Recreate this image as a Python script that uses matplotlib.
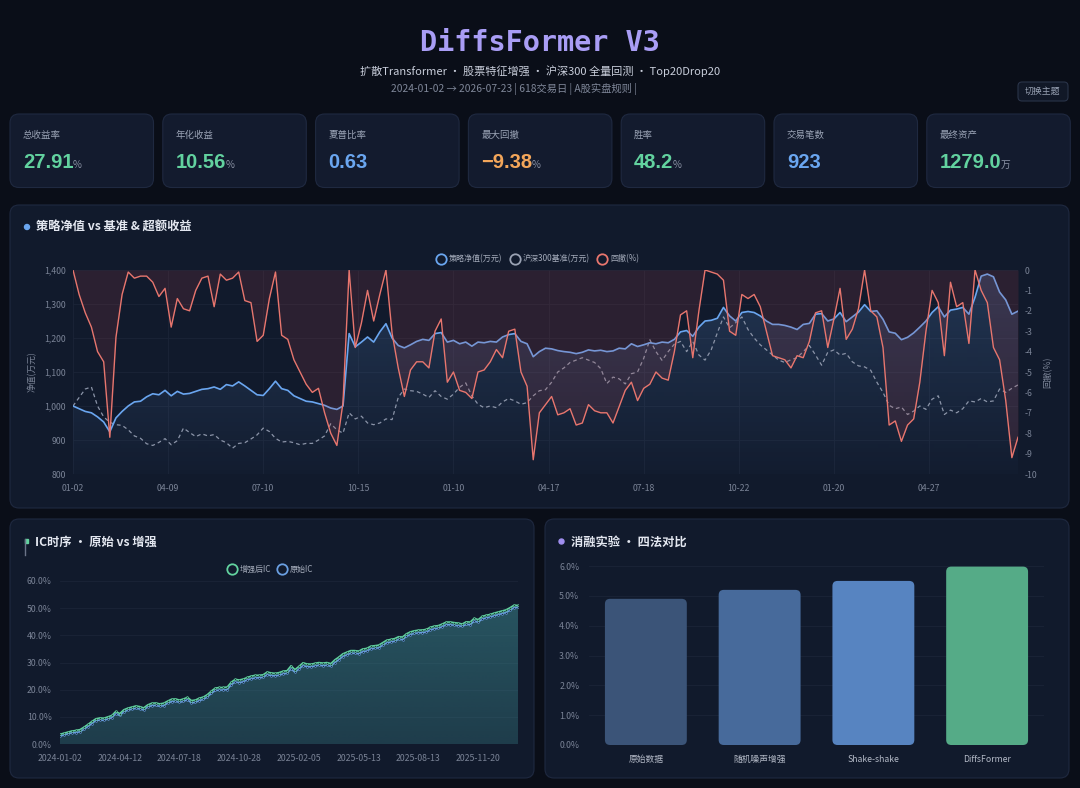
import numpy as np
import matplotlib.pyplot as plt
import matplotlib.colors as mcolors
from matplotlib.patches import FancyBboxPatch, Circle, Rectangle
from matplotlib.lines import Line2D
from matplotlib.ticker import FuncFormatter, MultipleLocator

plt.rcParams['font.family'] = ['Noto Sans CJK SC', 'DejaVu Sans']
plt.rcParams['axes.unicode_minus'] = False

# ---------------- data ----------------
kpi_labels = ['总收益率', '年化收益', '夏普比率', '最大回撤', '胜率', '交易笔数', '最终资产']
kpi_values = ['27.91', '10.56', '0.63', '\u22129.38', '48.2', '923', '1279.0']
kpi_units = ['%', '%', '', '%', '%', '', '万']

# 策略净值 / 沪深300 / 回撤, one point every 4 trading days
nav_strategy = [
    1000, 992, 984, 980, 968, 953, 924, 965, 984, 1000, 1012, 1014, 1027, 1036, 1033, 1046,
    1030, 1043, 1035, 1037, 1043, 1049, 1051, 1056, 1049, 1063, 1059, 1071, 1059, 1046, 1033,
    1031, 1051, 1073, 1051, 1046, 1030, 1022, 1014,
    1012, 1007, 1002, 994, 990, 1000, 1213, 1174, 1188, 1203, 1188, 1218, 1242, 1200, 1178,
    1171, 1180, 1190, 1196, 1193, 1213, 1216, 1188, 1193, 1183, 1188, 1176, 1188, 1186, 1190,
    1188, 1203, 1210, 1213, 1190, 1183, 1145, 1160,
    1170, 1168, 1163, 1160, 1158, 1154, 1158, 1165, 1162, 1164, 1160, 1162, 1170, 1168, 1183,
    1175, 1180, 1186, 1183, 1188, 1186, 1196, 1218, 1222, 1205, 1232, 1250, 1252, 1258, 1290,
    1265, 1250, 1275, 1278, 1275, 1265, 1250, 1240, 1240,
    1237, 1232, 1225, 1240, 1243, 1270, 1272, 1250, 1256, 1275, 1248, 1262, 1276, 1298, 1278,
    1280, 1255, 1218, 1214, 1195, 1202, 1215, 1232, 1250, 1275, 1292, 1262, 1282, 1285, 1290,
    1270, 1320, 1382, 1388, 1380, 1335, 1312, 1270, 1279,
]
nav_bench = [
    1000, 1025, 1050, 1056, 1000, 968, 952, 945, 943, 930, 912, 905, 889, 884, 893, 904, 886,
    898, 935, 922, 910, 918, 912, 916, 900, 892, 876, 890, 892, 903, 915, 935, 925, 905, 894,
    896, 892, 886, 890,
    890, 900, 912, 948, 930, 920, 980, 962, 970, 950, 945, 950, 962, 960, 1025, 1050, 1045,
    1043, 1035, 1025, 1045, 1028, 1020, 1035, 1055, 1068, 1030, 1005, 995, 1000, 995, 1012,
    1022, 1015, 1005, 1010, 1030, 1045,
    1048, 1070, 1100, 1112, 1128, 1135, 1142, 1135, 1128, 1110, 1066, 1085, 1080, 1065, 1095,
    1100, 1140, 1195, 1160, 1134, 1160, 1182, 1190, 1160, 1190, 1150, 1135, 1165, 1215, 1262,
    1230, 1245, 1262, 1225, 1200, 1180, 1165, 1150, 1135,
    1128, 1136, 1142, 1160, 1178, 1150, 1120, 1158, 1165, 1150, 1155, 1130, 1118, 1115, 1105,
    1070, 1040, 1002, 992, 997, 975, 985, 1000, 990, 1020, 1030, 975, 988, 980, 992, 1015,
    1012, 1022, 1012, 1015, 1050, 1040, 1052, 1062,
]
drawdown = [
    0.0, -1.2, -2.1, -2.8, -4.0, -4.5, -8.2, -3.3, -1.2, -0.1, -0.4, -0.3, -0.3, -0.6, -1.3,
    -0.9, -2.8, -1.4, -1.9, -2.0, -1.0, -0.4, -0.3, -1.8, -0.2, -0.5, -0.4, -0.1, -1.5, -1.6,
    -3.5, -3.2, -1.4, -0.1, -3.2, -3.4, -4.4, -5.0, -5.6,
    -6.0, -5.8, -7.0, -8.0, -8.6, -6.5, 0.0, -3.8, -2.6, -1.0, -2.5, -1.2, 0.0, -3.1, -4.8,
    -6.2, -4.9, -4.5, -4.5, -4.8, -3.0, -2.4, -5.5, -5.0, -5.9, -6.0, -6.3, -5.0, -4.9, -4.5,
    -3.9, -4.3, -3.0, -2.9, -5.0, -5.7, -9.3, -7.0,
    -6.6, -6.2, -7.1, -7.0, -6.8, -7.6, -7.5, -6.6, -6.9, -7.0, -7.0, -7.5, -6.7, -5.9, -5.5,
    -6.4, -5.8, -5.6, -5.0, -5.3, -5.4, -4.0, -2.2, -2.0, -4.3, -2.0, 0.0, -0.1, -0.2, -0.5,
    -3.0, -3.2, -1.2, -1.4, -1.2, -1.8, -3.0, -4.2, -4.3,
    -4.4, -4.8, -4.2, -4.3, -3.5, -2.1, -2.0, -3.8, -2.4, -0.9, -3.4, -2.9, -1.9, 0.0, -2.0,
    -2.3, -3.8, -7.6, -7.4, -8.4, -7.6, -7.3, -5.5, -3.0, -1.0, -1.6, -4.2, -0.6, -1.8, -1.6,
    -3.6, 0.0, -1.0, -1.6, -3.8, -4.4, -6.4, -9.2, -8.2,
]
nav_dates = ['01-02', '04-09', '07-10', '10-15', '01-10', '04-17', '07-18', '10-22', '01-20', '04-27']
step_days = 4
tick_every = 62

# 周度累计 IC (%)
ic_enhanced = [
    3.6, 4.0, 4.4, 4.8, 5.0, 5.3, 6.2, 7.2, 8.3, 9.3, 9.6, 9.5, 10.0, 10.5, 12.0, 11.2, 12.6,
    13.2, 13.6, 14.0, 13.8, 13.3, 14.4, 15.0, 15.1, 14.8, 15.0, 15.8, 16.5, 16.6, 16.2, 16.6,
    17.2, 16.0, 16.2, 16.9, 17.3, 18.2, 19.5, 20.6, 20.8, 20.8, 21.0, 22.8, 23.8, 23.6, 23.9,
    24.5, 25.0, 25.3, 25.3, 25.5, 26.5, 26.2, 26.0, 26.3, 26.8, 27.0, 28.8, 27.4, 28.6, 29.9,
    29.5, 29.4, 29.7, 30.0, 29.8, 30.0, 29.6, 31.0, 32.0, 33.2, 33.8, 34.4, 34.4, 34.2, 35.0,
    35.2, 36.0, 36.2, 36.4, 37.3, 38.2, 38.5, 38.8, 39.5, 39.4, 40.6, 41.3, 41.7, 41.9, 42.0,
    42.2, 43.0, 43.4, 43.6, 44.2, 44.9, 44.9, 44.7, 44.5, 44.2, 45.0, 44.9, 46.3, 45.8, 47.0,
    47.4, 47.7, 48.2, 48.6, 49.0, 49.4, 50.2, 51.1, 51.0,
]
ic_raw = [
    2.9, 3.3, 3.8, 4.1, 4.2, 4.5, 5.4, 6.4, 7.5, 8.6, 8.8, 8.7, 9.2, 9.7, 11.1, 10.5, 11.8,
    12.4, 12.8, 13.1, 12.9, 12.5, 13.6, 14.1, 14.2, 13.9, 14.1, 15.0, 15.6, 15.7, 15.3, 15.7,
    16.3, 15.1, 15.3, 16.0, 16.4, 17.3, 18.6, 19.7, 19.8, 19.9, 20.0, 21.8, 22.8, 22.6, 22.9,
    23.6, 24.0, 24.3, 24.4, 24.5, 25.5, 25.2, 25.1, 25.3, 25.8, 26.0, 27.6, 26.4, 27.6, 28.8,
    28.5, 28.4, 28.7, 29.0, 28.8, 29.0, 28.6, 30.0, 31.0, 32.2, 32.8, 33.4, 33.4, 33.2, 34.0,
    34.2, 35.0, 35.2, 35.4, 36.3, 37.2, 37.5, 37.8, 38.5, 38.4, 39.6, 40.3, 40.7, 40.9, 41.0,
    41.2, 42.0, 42.4, 42.6, 43.2, 43.9, 43.9, 43.7, 43.5, 43.3, 44.0, 43.9, 45.2, 44.8, 46.0,
    46.4, 46.7, 47.2, 47.6, 48.0, 48.4, 49.2, 50.2, 50.3,
]
ic_dates = ['2024-01-02', '2024-04-12', '2024-07-18', '2024-10-28',
            '2025-02-05', '2025-05-13', '2025-08-13', '2025-11-20']
ic_tick_every = 15

ablation_methods = ['原始数据', '随机噪声增强', 'Shake-shake', 'DiffsFormer']
ablation_ic = [4.9, 5.2, 5.5, 5.98]

# ---------------- style ----------------
W, H = 1080, 788
BG = '#0a0e18'
CARD = '#111a2c'
KPI_CARD = '#131b2e'
EDGE = '#1f2940'
GRID = '#1b2437'
TICK = '#7a8396'
GREEN = '#62d29f'
BLUE = '#6aa6f0'
ORANGE = '#f3a65a'
RED = '#e8766e'
GRAY = '#8b94a8'
kpi_colors = [GREEN, GREEN, BLUE, ORANGE, GREEN, BLUE, GREEN]
bar_colors = ['#3b5478', '#476a9b', '#5784c1', '#55ab87']


def rect(x0, y0, x1, y1):
    return [x0 / W, 1 - y1 / H, (x1 - x0) / W, (y1 - y0) / H]


def card(x0, y0, x1, y1, r=9, fc=CARD):
    bg.add_patch(FancyBboxPatch((x0, y0), x1 - x0, y1 - y0,
                                boxstyle=f'round,pad=0,rounding_size={r}',
                                fc=fc, ec=EDGE, lw=0.8))


def gradient_fill(ax, xs, ys, base, color, a_top, a_bot, zorder=1):
    img = np.zeros((200, 1, 4))
    img[:, 0, :3] = mcolors.to_rgb(color)
    img[:, 0, 3] = np.linspace(a_bot, a_top, 200)
    im = ax.imshow(img, aspect='auto', origin='lower', interpolation='bilinear',
                   extent=[xs[0], xs[-1], base, max(ys)], zorder=zorder)
    poly = ax.fill_between(xs, ys, base, facecolor='none', edgecolor='none')
    im.set_clip_path(poly.get_paths()[0], transform=ax.transData)


def style_axis(ax):
    ax.set_facecolor('none')
    for s in ax.spines.values():
        s.set_visible(False)
    ax.tick_params(length=0, labelsize=6.3, colors=TICK)


def legend_handles(colors):
    return [Line2D([], [], ls='none', marker='o', ms=7.5, mfc='none', mec=c, mew=1.3)
            for c in colors]


fig = plt.figure(figsize=(W / 100, H / 100), dpi=100, facecolor=BG)
bg = fig.add_axes([0, 0, 1, 1])
bg.set_xlim(0, W)
bg.set_ylim(H, 0)
bg.axis('off')

# ---------------- header ----------------
bg.text(540, 43, 'DiffsFormer V3', ha='center', va='center', fontsize=20.5,
        family='DejaVu Sans Mono', weight='bold', color='#a99df5')
bg.text(540, 71, '扩散Transformer · 股票特征增强 · 沪深300 全量回测 · Top20Drop20',
        ha='center', va='center', fontsize=8.0, color='#c9cedb')
bg.text(514, 89, '2024-01-02 → 2026-07-23 | 618交易日 | A股实盘规则 |',
        ha='center', va='center', fontsize=7.4, color='#7f8799')
bg.add_patch(FancyBboxPatch((1018, 82), 50, 19, boxstyle='round,pad=0,rounding_size=4',
                            fc='#111827', ec='#2a3449', lw=0.8))
bg.text(1043, 91.5, '切换主题', ha='center', va='center', fontsize=6.4, color='#9aa3b5')

# ---------------- KPI cards ----------------
renderer = fig.canvas.get_renderer()
for i, (lab, val, unit) in enumerate(zip(kpi_labels, kpi_values, kpi_units)):
    x0 = 10 + i * 152.8
    card(x0, 114, x0 + 143.5, 187.5, r=9, fc=KPI_CARD)
    bg.text(x0 + 13, 135.5, lab, ha='left', va='center', fontsize=6.8, color='#9aa3b5')
    t = bg.text(x0 + 13, 167.5, val, ha='left', va='baseline', fontsize=14.5,
                family=['Liberation Sans', 'DejaVu Sans'], weight='bold', color=kpi_colors[i])
    if unit:
        bb = t.get_window_extent(renderer=renderer)
        bg.text(bb.x1 - 0.5, 167.5, unit, ha='left', va='baseline', fontsize=7,
                color='#8b93a5')

# ---------------- main chart ----------------
card(10, 205, 1069, 508)
bg.add_patch(Circle((27, 227), 2.5, color=BLUE))
bg.text(36, 227, '策略净值 vs 基准 & 超额收益', ha='left', va='center', fontsize=8.8,
        weight='bold', color='#e3e7f0')
bg.text(32, 372, '净值(万元)', ha='center', va='center', rotation=90, fontsize=6.3, color=TICK)
bg.text(1048, 372, '回撤(%)', ha='center', va='center', rotation=90, fontsize=6.3, color=TICK)

xd = np.arange(len(nav_strategy)) * step_days
ax = fig.add_axes(rect(73, 270, 1018, 474))
style_axis(ax)
ax.set_axisbelow(True)
ax.grid(True, color=GRID, lw=0.6)
gradient_fill(ax, xd, nav_strategy, 800, BLUE, 0.2, 0.02, zorder=1)
ax.plot(xd, nav_bench, color=GRAY, lw=0.9, ls=(0, (3, 2.5)), zorder=2)
ax.plot(xd, nav_strategy, color=BLUE, lw=1.2, zorder=3)
ax.set_xlim(xd[0], xd[-1])
ax.set_ylim(800, 1400)
ax.yaxis.set_major_locator(MultipleLocator(100))
ax.yaxis.set_major_formatter(FuncFormatter(lambda v, p: f'{v:,.0f}'))
ax.set_xticks(np.arange(len(nav_dates)) * tick_every)
ax.set_xticklabels(nav_dates)
ax.tick_params(axis='y', pad=5)
ax.tick_params(axis='x', pad=7)

ax2 = ax.twinx()
style_axis(ax2)
ax2.fill_between(xd, drawdown, 0, color='#b8444c', alpha=0.16, lw=0, zorder=1)
ax2.plot(xd, drawdown, color=RED, lw=1.0, zorder=4)
ax2.set_ylim(-10, 0)
ax2.yaxis.set_major_locator(MultipleLocator(1))
ax2.tick_params(axis='y', pad=5)

ax2.legend(legend_handles((BLUE, '#9aa2b3', RED)),
           ['策略净值(万元)', '沪深300基准(万元)', '回撤(%)'], loc='center',
           bbox_to_anchor=(0.492, 1.054), ncol=3, frameon=False, fontsize=5.8,
           handlelength=1.0, handletextpad=0.5, columnspacing=1.0, labelcolor='#a4abba')

# ---------------- IC chart ----------------
card(10, 519, 534, 778)
bg.plot([24.5, 24.5], [539, 555], color='#6b7488', lw=1)
bg.add_patch(Rectangle((24.5, 539), 3.5, 4, color=GREEN))
bg.text(35, 542, 'IC时序 · 原始 vs 增强', ha='left', va='center', fontsize=8.8,
        weight='bold', color='#e3e7f0')

xw = np.arange(len(ic_enhanced))
axi = fig.add_axes(rect(60, 581, 518, 744))
style_axis(axi)
axi.set_axisbelow(True)
axi.grid(True, axis='y', color=GRID, lw=0.6)
gradient_fill(axi, xw, ic_enhanced, 0, '#3f8f95', 0.5, 0.3, zorder=1)
axi.plot(xw, ic_raw, color='#6a9fe2', lw=1.1, marker='o', ms=1.3, mfc='#1c2b40',
         mec='#6a9fe2', mew=0.4, zorder=3)
axi.plot(xw, ic_enhanced, color=GREEN, lw=1.1, marker='o', ms=1.3, mfc='#1c3a3a',
         mec=GREEN, mew=0.4, zorder=4)
axi.set_xlim(0, len(ic_enhanced) - 1)
axi.set_ylim(0, 60)
axi.yaxis.set_major_locator(MultipleLocator(10))
axi.yaxis.set_major_formatter(FuncFormatter(lambda v, p: f'{v:.1f}%'))
axi.set_xticks(np.arange(len(ic_dates)) * ic_tick_every)
axi.set_xticklabels(ic_dates)
axi.tick_params(axis='y', pad=6)
axi.tick_params(axis='x', pad=7)
axi.legend(legend_handles((GREEN, '#6a9fe2')), ['增强后IC', '原始IC'], loc='center',
           bbox_to_anchor=(0.46, 1.07), ncol=2, frameon=False, fontsize=5.8,
           handlelength=1.0, handletextpad=0.5, columnspacing=0.8, labelcolor='#a4abba')

# ---------------- ablation bars ----------------
card(545, 519, 1069, 778)
bg.add_patch(Circle((561.5, 541.5), 2.5, color='#a08ff0'))
bg.text(571, 542, '消融实验 · 四法对比', ha='left', va='center', fontsize=8.8,
        weight='bold', color='#e3e7f0')

axb = fig.add_axes(rect(589, 566, 1044, 745))
style_axis(axb)
axb.set_axisbelow(True)
axb.grid(True, axis='y', color=GRID, lw=0.6)
bars = axb.bar(range(len(ablation_methods)), ablation_ic, width=0.72, color=bar_colors)
for b, c in zip(bars, bar_colors):
    b.set_visible(False)
    axb.add_patch(FancyBboxPatch((b.get_x(), 0), b.get_width(), b.get_height(),
                                 boxstyle='round,pad=0,rounding_size=0.045',
                                 mutation_aspect=3.8, fc=c, ec='none', clip_on=False))
axb.set_xlim(-0.5, len(ablation_methods) - 0.5)
axb.set_ylim(0, 6)
axb.yaxis.set_major_locator(MultipleLocator(1))
axb.yaxis.set_major_formatter(FuncFormatter(lambda v, p: f'{v:.1f}%'))
axb.set_xticks(range(len(ablation_methods)))
axb.set_xticklabels(ablation_methods, color='#b3b9c6')
axb.tick_params(axis='y', pad=7)
axb.tick_params(axis='x', pad=7)

fig.savefig('out.png', dpi=100, facecolor=BG)
